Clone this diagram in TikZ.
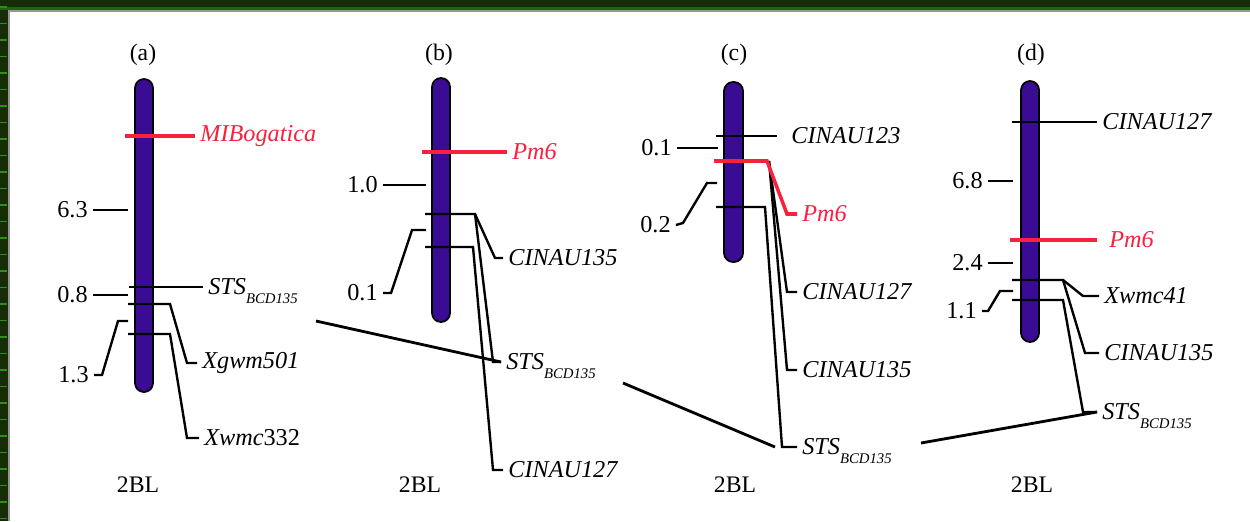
\documentclass[tikz,border=0pt]{standalone}
\usepackage{fontspec}
\setmainfont{Liberation Serif}
\definecolor{chromblue}{RGB}{58,12,148}
\definecolor{markred}{RGB}{248,34,62}
\definecolor{framegreen}{RGB}{22,44,6}
\definecolor{tickgreen}{RGB}{48,140,22}
\definecolor{edgegray}{RGB}{150,150,150}
\newcommand{\sts}{STS\smash{\raisebox{-5pt}{\fontsize{8.4}{8.4}\selectfont BCD135}}}

\tikzset{
  chrom/.style={draw=black, line width=1pt, fill=chromblue, rounded corners=0.18cm},
  markline/.style={black, line width=1.35pt},
  redline/.style={markred, line width=2pt},
  crossline/.style={black, line width=1.6pt},
  gname/.style={font=\fontsize{13.8}{16}\selectfont\itshape, inner sep=0.1cm, anchor=west},
  dist/.style={font=\fontsize{13.8}{16}\selectfont, inner sep=0.1cm, anchor=east},
  ttl/.style={font=\fontsize{13.5}{16}\selectfont, inner sep=0pt}
}

\begin{document}
\begin{tikzpicture}[x=0.02cm, y=-0.02cm]

% Background
\useasboundingbox (0,0) rectangle (1250,521);
\fill[framegreen] (0,0) rectangle (1250,521);
\fill[tickgreen!70!black] (0,7) rectangle (1250,10);
\foreach \y in {7,23.5,...,521} {
    \draw[tickgreen, line width=1pt] (0,\y) -- (7,\y);
}
\fill[edgegray] (8,10) rectangle (1250,521);
\fill[white] (10,12) rectangle (1250,521);

% (a)
\node[ttl] (a-t) at (143,55) {(a)};
\draw[chrom] (135,79) rectangle (153,392);
\node[gname, text=markred] (a-mib) at (195,136) {MIBogatica};
\draw[redline] (125,136) coordinate (a-r) -- (a-mib.west);
\node[dist] (a-d1) at (93,210) {6.3};
\draw[markline] (a-d1.east) -- (128,210);
\node[gname] (a-sts) at (203,287) {\sts};
\draw[markline] (129,287) coordinate (a-m1) -- (a-sts.west);
\node[dist] (a-d2) at (93,295) {0.8};
\draw[markline] (a-d2.east) -- (128,295);
\node[gname] (a-xg) at (197,363) {Xgwm501};
\draw[markline] (128,304) coordinate (a-m2) -- (170,304) -- (187,363) -- (a-xg.west);
\node[gname] (a-xw) at (199,438) {Xwmc\upshape 332};
\draw[markline] (128,334) coordinate (a-m3) -- (170,334) -- (187,438) -- (a-xw.west);
\node[dist] (a-d3) at (94,375) {1.3};
\draw[markline] (a-d3.east) -- (102,375) -- (118,321) -- (128,321);
\node[ttl] (a-bl) at (138,485) {2BL};

% (b)
\node[ttl] (b-t) at (439,55) {(b)};
\draw[chrom] (432,78) rectangle (450,322);
\node[gname, text=markred] (b-pm) at (507,152) {Pm6};
\draw[redline] (422,152) coordinate (b-r) -- (b-pm.west);
\node[dist] (b-d1) at (383,185) {1.0};
\draw[markline] (b-d1.east) -- (426,185);
\node[gname] (b-c135) at (503,258) {CINAU135};
\node[gname] (b-sts) at (501,362) {\sts};
\node[gname] (b-c127) at (503,470) {CINAU127};
\draw[markline] (425,214) -- (475,214) coordinate (b-k1) -- (495,258) -- (b-c135.west);
\draw[markline] (b-k1) -- (493,362) -- (b-sts.west);
\draw[markline] (425,247) coordinate (b-m2) -- (473,247) -- (493,470) -- (b-c127.west);
\node[dist] (b-d2) at (383,293) {0.1};
\draw[markline] (b-d2.east) -- (391,293) -- (412,230) -- (426,230);
\node[ttl] (b-bl) at (420,485) {2BL};

% (c)
\node[ttl] (c-t) at (734,55) {(c)};
\draw[chrom] (724,82) rectangle (743,262);
\node[gname] (c-c123) at (786,136) {CINAU123};
\draw[markline] (716,136) coordinate (c-m1) -- ([xshift=-0.18cm]c-c123.west);
\node[dist] (c-d1) at (677,148) {0.1};
\draw[markline] (c-d1.east) -- (718,148);
\node[gname, text=markred] (c-pm) at (797,214) {Pm6};
\node[gname] (c-c127) at (797,292) {CINAU127};
\node[gname] (c-c135) at (797,370) {CINAU135};
\node[gname] (c-sts) at (797,447) {\sts};
\draw[markline] (769,161) coordinate (c-k1) -- (787,292) -- (c-c127.west);
\draw[markline] (c-k1) -- (787,370) -- (c-c135.west);
\draw[redline] (714,161) coordinate (c-r) -- (767,161) -- (787,214) -- (c-pm.west);
\draw[markline] (716,207) coordinate (c-m2) -- (765,207) -- (782,447) -- (c-sts.west);
\node[dist] (c-d2) at (676,225) {0.2};
\draw[markline] (c-d2.east) -- (683,223) -- (707,183) -- (717,183);
\node[ttl] (c-bl) at (735,485) {2BL};

% (d)
\node[ttl] (d-t) at (1031,55) {(d)};
\draw[chrom] (1021,81) rectangle (1039,342);
\node[gname] (d-c127) at (1097,122) {CINAU127};
\draw[markline] (1012,122) coordinate (d-m1) -- (d-c127.west);
\node[dist] (d-d1) at (988,181) {6.8};
\draw[markline] (d-d1.east) -- (1013,181);
\node[gname, text=markred] (d-pm) at (1104,240) {Pm6};
\draw[redline] (1010,240) coordinate (d-r) -- ([xshift=-0.14cm]d-pm.west);
\node[dist] (d-d2) at (988,263) {2.4};
\draw[markline] (d-d2.east) -- (1013,263);
\node[gname] (d-xw) at (1099,296) {Xwmc41};
\node[gname] (d-c135) at (1099,353) {CINAU135};
\node[gname] (d-sts) at (1097,412) {\sts};
\draw[markline] (1012,280) -- (1063,280) coordinate (d-k1) -- (1083,296) -- (d-xw.west);
\draw[markline] (d-k1) -- (1085,353) -- (d-c135.west);
\draw[markline] (1012,300) coordinate (d-m3) -- (1063,300) -- (1083,412) -- (d-sts.west);
\node[dist] (d-d3) at (982,311) {1.1};
\draw[markline] (d-d3.east) -- (988,311) -- (1000,291) -- (1013,291);
\node[ttl] (d-bl) at (1032,485) {2BL};

% Links between maps
\draw[crossline] (316,321) coordinate (ab) -- (b-sts.west);
\draw[crossline] (623,383) coordinate (bc) -- ([xshift=-0.44cm]c-sts.west);
\draw[crossline] (921,443) coordinate (cd) -- (d-sts.west);

\end{tikzpicture}
\end{document}
